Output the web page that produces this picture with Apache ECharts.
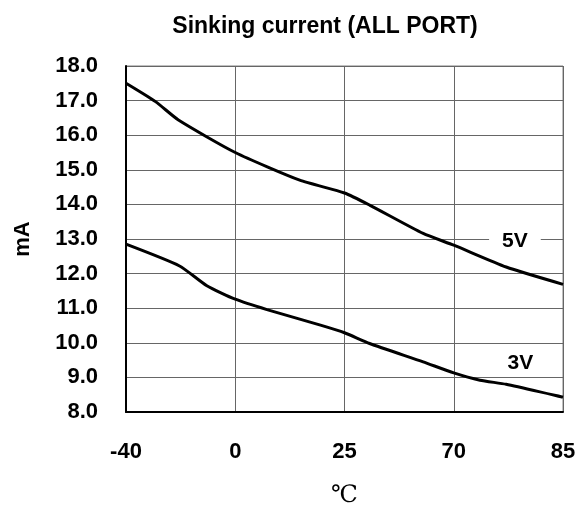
<!DOCTYPE html>
<html>
<head>
<meta charset="utf-8">
<script src="https://cdn.jsdelivr.net/npm/echarts@6/dist/echarts.min.js"></script>
<style>
  html, body { margin: 0; padding: 0; background: #ffffff; }
  #chart { width: 588px; height: 507px; }
</style>
</head>
<body>
<div id="chart"></div>
<script>
// Temperature ticks are equally spaced on the axis, so points are placed
// in tick units: 0 = -40, 1 = 0, 2 = 25, 3 = 70, 4 = 85.
const tempTicks = ['-40', '0', '25', '70', '85'];

// Sinking current at 5V supply: [tick position, mA]
const sink5V = [
  [0, 17.5], [0.27, 16.97], [0.48, 16.44], [1, 15.5], [1.59, 14.7],
  [2, 14.33], [2.23, 13.98], [2.72, 13.16], [3, 12.82], [3.48, 12.19], [4, 11.69]
];

// Sinking current at 3V supply: [tick position, mA]
const sink3V = [
  [0, 12.85], [0.49, 12.22], [0.74, 11.65], [1, 11.26], [1.29, 10.96],
  [1.78, 10.51], [2, 10.29], [2.23, 9.98], [2.72, 9.45], [3, 9.13],
  [3.24, 8.92], [3.48, 8.8], [4, 8.43]
];

// Curve name tags: [tick position, mA, text]
const curveTags = [
  [3.56, 12.94, '5V'],
  [3.61, 9.4, '3V']
];

const FONT = '"Liberation Sans", Arial, sans-serif';

function tagPoint(tag) {
  return {
    coord: [tag[0], tag[1]],
    symbol: 'rect',
    symbolSize: 0,
    label: {
      show: true,
      position: 'inside',
      formatter: tag[2],
      color: '#000',
      fontFamily: FONT,
      fontWeight: 'bold',
      fontSize: 21,
      backgroundColor: '#ffffff',
      padding: [2, 13]
    }
  };
}

function curve(name, data, tag) {
  return {
    name: name,
    type: 'line',
    data: data,
    showSymbol: false,
    symbol: 'none',
    smooth: 0.2,
    lineStyle: { color: '#000000', width: 3 },
    z: 5,
    markPoint: {
      silent: true,
      animation: false,
      data: [tagPoint(tag)]
    }
  };
}

const chart = echarts.init(document.getElementById('chart'), null, { renderer: 'canvas' });

chart.setOption({
  animation: false,
  backgroundColor: '#ffffff',
  title: {
    text: 'Sinking current (ALL PORT)',
    left: 320,
    top: 10,
    textAlign: 'center',
    textStyle: {
      fontFamily: FONT,
      fontWeight: 'bold',
      fontSize: 23,
      color: '#000'
    }
  },
  grid: {
    left: 126,
    right: 25,
    top: 66,
    bottom: 95,
    outerBoundsMode: 'none',
    containLabel: false,
    show: true,
    borderColor: '#808080',
    borderWidth: 1,
    backgroundColor: 'transparent'
  },
  xAxis: {
    type: 'value',
    min: 0,
    max: 4,
    interval: 1,
    name: '\u2103',
    nameLocation: 'middle',
    nameGap: 72,
    nameTextStyle: {
      fontFamily: '"DejaVu Serif", "Noto Sans CJK JP", serif',
      fontSize: 24,
      color: '#000'
    },
    axisLine: { show: true, lineStyle: { color: '#000', width: 2 } },
    axisTick: { show: false },
    splitLine: { show: true, lineStyle: { color: '#666666', width: 1 } },
    axisLabel: {
      margin: 29,
      fontFamily: FONT,
      fontWeight: 'bold',
      fontSize: 22,
      color: '#000',
      formatter: function (v) { return tempTicks[Math.round(v)]; }
    }
  },
  yAxis: {
    type: 'value',
    min: 8,
    max: 18,
    interval: 1,
    name: 'mA',
    nameLocation: 'middle',
    nameGap: 92,
    nameRotate: 90,
    nameTextStyle: {
      fontFamily: FONT,
      fontWeight: 'bold',
      fontSize: 22,
      color: '#000'
    },
    axisLine: { show: true, lineStyle: { color: '#000', width: 2 } },
    axisTick: { show: false },
    splitLine: { show: true, lineStyle: { color: '#666666', width: 1 } },
    axisLabel: {
      margin: 28,
      fontFamily: FONT,
      fontWeight: 'bold',
      fontSize: 22,
      color: '#000',
      formatter: function (v) { return v.toFixed(1); }
    }
  },
  series: [
    curve('5V', sink5V, curveTags[0]),
    curve('3V', sink3V, curveTags[1])
  ]
});
</script>
</body>
</html>
